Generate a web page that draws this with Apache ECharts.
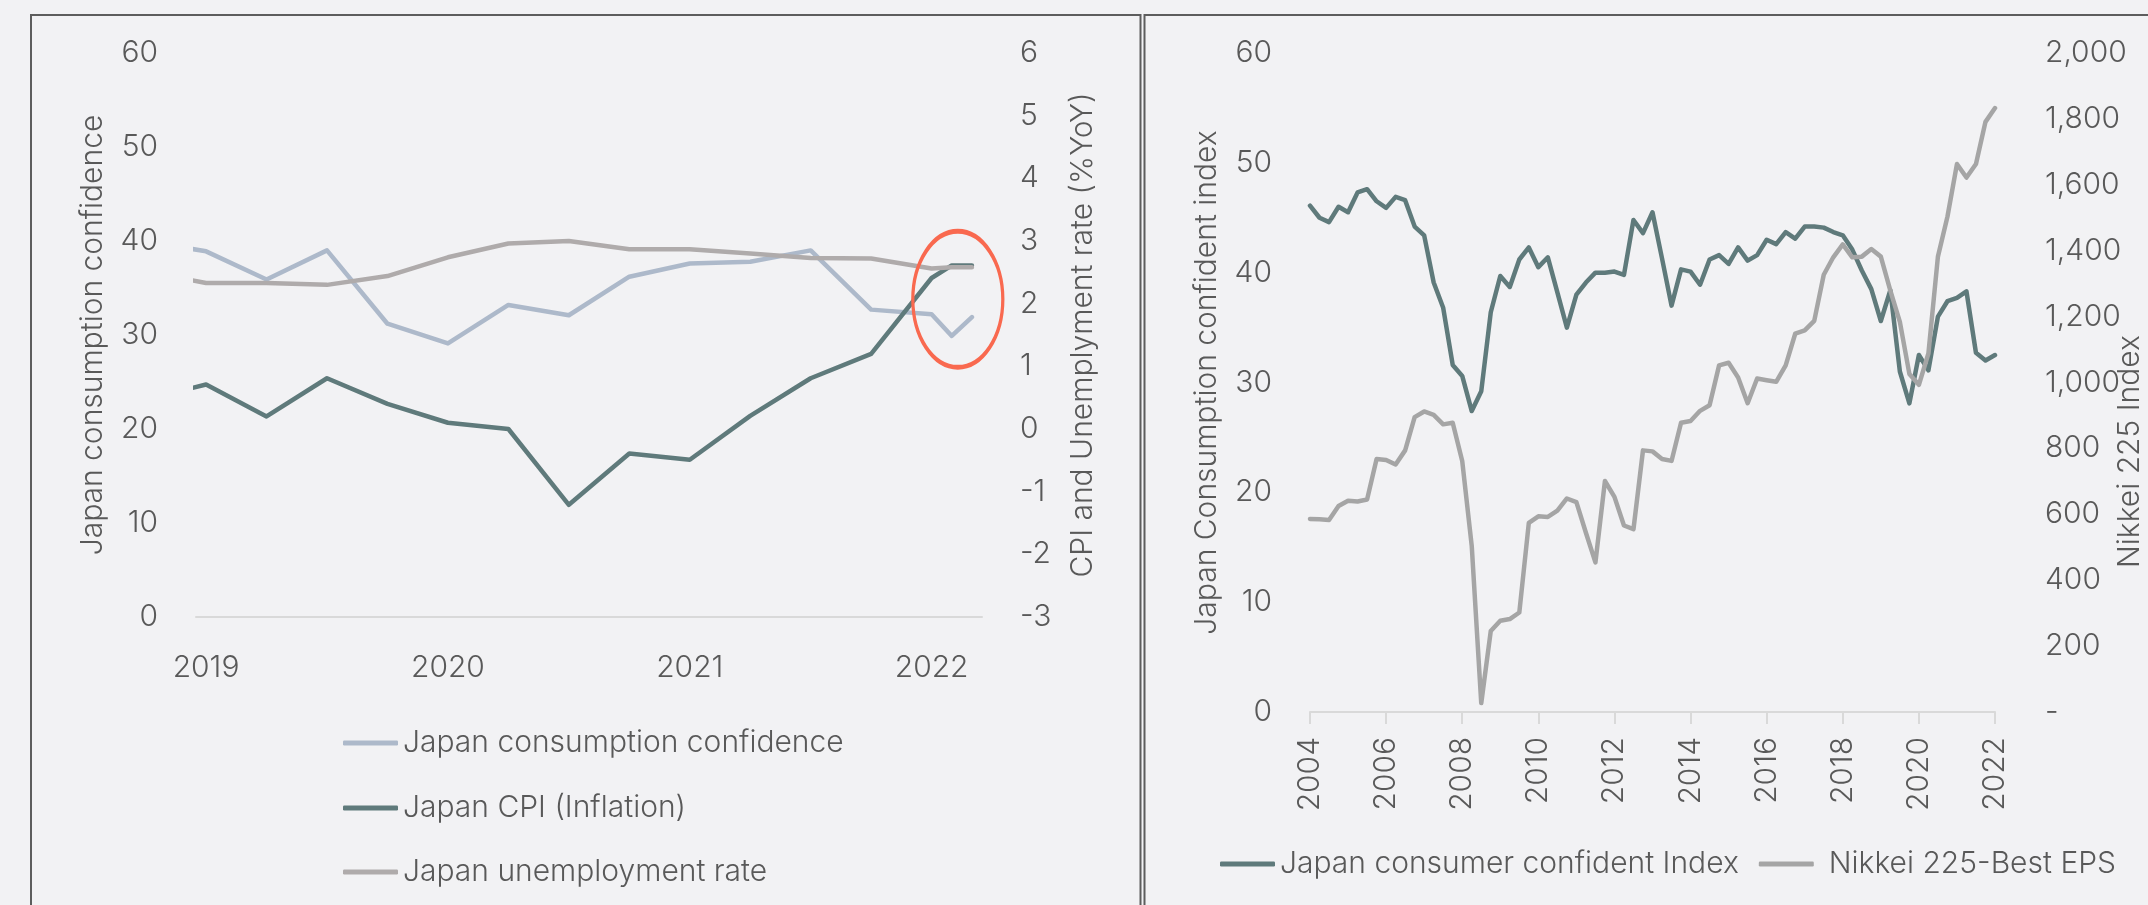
<!DOCTYPE html>
<html>
<head>
<meta charset="utf-8">
<title>Japan consumer confidence, inflation and earnings</title>
<script src="https://cdn.jsdelivr.net/npm/echarts@6/dist/echarts.min.js"></script>
<style>
  html, body { margin: 0; padding: 0; background: #f2f2f4; }
  #chart { width: 2148px; height: 905px; }
</style>
</head>
<body>
<div id="chart"></div>
<script>
// ---- Left panel: quarterly readings, with the two latest monthly prints ----
const leftDates = ['2018-10', '2019-01', '2019-04', '2019-07', '2019-10', '2020-01', '2020-04', '2020-07',
  '2020-10', '2021-01', '2021-04', '2021-07', '2021-10', '2022-01', '2022-02', '2022-03'];
const consumptionConfidence = [40.0, 38.9, 35.9, 39.0, 31.2, 29.1, 33.2, 32.1, 36.2, 37.6, 37.8, 39.0, 32.7, 32.2, 29.9, 31.9];
const cpiInflation = [0.47, 0.71, 0.20, 0.81, 0.40, 0.10, 0.00, -1.21, -0.39, -0.49, 0.21, 0.81, 1.20, 2.41, 2.61, 2.61];
const unemploymentRate = [2.51, 2.33, 2.33, 2.30, 2.44, 2.74, 2.96, 3.00, 2.87, 2.87, 2.80, 2.73, 2.72, 2.56, 2.58, 2.58];
const leftYearTicks = ['2019', '2020', '2021', '2022'];

// ---- Right panel: quarterly readings 2004-2022 ----
const rightQuarters = [
  '2004Q1', '2004Q2', '2004Q3', '2004Q4', '2005Q1', '2005Q2', '2005Q3', '2005Q4',
  '2006Q1', '2006Q2', '2006Q3', '2006Q4', '2007Q1', '2007Q2', '2007Q3', '2007Q4',
  '2008Q1', '2008Q2', '2008Q3', '2008Q4', '2009Q1', '2009Q2', '2009Q3', '2009Q4',
  '2010Q1', '2010Q2', '2010Q3', '2010Q4', '2011Q1', '2011Q2', '2011Q3', '2011Q4',
  '2012Q1', '2012Q2', '2012Q3', '2012Q4', '2013Q1', '2013Q2', '2013Q3', '2013Q4',
  '2014Q1', '2014Q2', '2014Q3', '2014Q4', '2015Q1', '2015Q2', '2015Q3', '2015Q4',
  '2016Q1', '2016Q2', '2016Q3', '2016Q4', '2017Q1', '2017Q2', '2017Q3', '2017Q4',
  '2018Q1', '2018Q2', '2018Q3', '2018Q4', '2019Q1', '2019Q2', '2019Q3', '2019Q4',
  '2020Q1', '2020Q2', '2020Q3', '2020Q4', '2021Q1', '2021Q2', '2021Q3', '2021Q4',
  '2022Q1'];
const consumerConfidentIndex = [
  46.1, 45.0, 44.6, 46.0, 45.5, 47.3, 47.6, 46.5,
  45.9, 46.9, 46.6, 44.2, 43.4, 39.1, 36.8, 31.6,
  30.6, 27.4, 29.2, 36.4, 39.7, 38.7, 41.2, 42.3,
  40.5, 41.4, 38.2, 35.0, 38.0, 39.1, 40.0, 40.0,
  40.1, 39.8, 44.8, 43.6, 45.5, 41.3, 37.0, 40.3,
  40.1, 38.9, 41.2, 41.6, 40.8, 42.3, 41.1, 41.6,
  43.0, 42.6, 43.7, 43.1, 44.2, 44.2, 44.1, 43.7,
  43.4, 42.1, 40.2, 38.5, 35.6, 38.4, 31.0, 28.1,
  32.5, 31.1, 36.0, 37.4, 37.7, 38.3, 32.7, 32.0,
  32.5];
const nikkeiBestEps = [
  586, 585, 583, 625, 641, 639, 645, 768,
  765, 751, 794, 895, 912, 902, 873, 878,
  762, 504, 27, 246, 277, 282, 302, 574,
  594, 592, 611, 648, 637, 544, 454, 701,
  653, 566, 555, 794, 791, 768, 762, 878,
  883, 914, 931, 1052, 1060, 1015, 937, 1012,
  1007, 1002, 1052, 1148, 1158, 1187, 1327, 1380,
  1419, 1380, 1382, 1405, 1382, 1279, 1184, 1026,
  993, 1088, 1382, 1503, 1663, 1622, 1663, 1791,
  1833];

const FONT = 'Inter, "Liberation Sans", Arial, sans-serif';
const TEXT = '#595959';
const FS = 30;
const FW = 300;

// months counted from January 2019
function monthIndex(d) {
  const parts = d.split('-').map(Number);
  return (parts[0] - 2019) * 12 + (parts[1] - 1);
}
function pairs(values) {
  return leftDates.map((d, i) => [monthIndex(d), values[i]]);
}

const leftTickPos = leftYearTicks.map(y => monthIndex(y + '-01'));
const leftMin = monthIndex(leftDates[1]) - 0.5;
const leftMax = monthIndex(leftDates[leftDates.length - 1]) + 0.5;

const lineBase = {
  type: 'line', symbol: 'none', smooth: false, clip: true,
  lineStyle: { width: 4.5, cap: 'round', join: 'round' }
};
const axisText = { color: TEXT, fontSize: FS, fontFamily: FONT, fontWeight: FW };
const legendBase = {
  orient: 'horizontal', icon: 'roundRect', itemWidth: 55, itemHeight: 5,
  selectedMode: false, textStyle: { color: TEXT, fontSize: FS, fontFamily: FONT, fontWeight: FW }
};
const plainY = {
  type: 'value', axisLine: { show: false }, axisTick: { show: false }, splitLine: { show: false },
  nameLocation: 'middle', nameMoveOverlap: false
};

// ellipse outline for the annotation ring
const ringPath = 'path://M0,-1 C0.5523,-1 1,-0.5523 1,0 C1,0.5523 0.5523,1 0,1 C-0.5523,1 -1,0.5523 -1,0 C-1,-0.5523 -0.5523,-1 0,-1 Z';

const chart = echarts.init(document.getElementById('chart'), null, { renderer: 'canvas' });

chart.setOption({
  animation: false,
  backgroundColor: '#f2f2f4',
  textStyle: { fontFamily: FONT },
  grid: [
    { left: 196, top: 53, width: 786, height: 564, outerBoundsMode: 'none' },
    { left: 1310, top: 53, width: 685, height: 659, outerBoundsMode: 'none' }
  ],
  xAxis: [
    {
      gridIndex: 0, type: 'value', min: leftMin, max: leftMax,
      axisLine: { show: true, onZero: false, lineStyle: { color: '#d9d9d9', width: 2 } },
      axisTick: { show: false },
      splitLine: { show: false },
      axisLabel: Object.assign({}, axisText, {
        customValues: leftTickPos,
        margin: 36,
        formatter: v => leftYearTicks[leftTickPos.indexOf(v)]
      })
    },
    {
      gridIndex: 1, type: 'category', data: rightQuarters, boundaryGap: false,
      axisLine: { show: true, onZero: false, lineStyle: { color: '#d9d9d9', width: 2 } },
      axisTick: { show: true, interval: 7, length: 12, lineStyle: { color: '#d9d9d9', width: 2 } },
      splitLine: { show: false },
      axisLabel: Object.assign({}, axisText, {
        interval: 7, rotate: 90, margin: 25,
        formatter: v => v.slice(0, 4)
      })
    }
  ],
  yAxis: [
    Object.assign({}, plainY, {
      gridIndex: 0, position: 'left', min: 0, max: 60, interval: 10,
      axisLabel: Object.assign({}, axisText, { margin: 38 }),
      name: 'Japan consumption confidence', nameGap: 88,
      nameTextStyle: axisText
    }),
    Object.assign({}, plainY, {
      gridIndex: 0, position: 'right', min: -3, max: 6, interval: 1,
      axisLabel: Object.assign({}, axisText, { margin: 38 }),
      name: 'CPI and Unemplyment rate (%YoY)', nameGap: 86,
      nameTextStyle: axisText
    }),
    Object.assign({}, plainY, {
      gridIndex: 1, position: 'left', min: 0, max: 60, interval: 10,
      axisLabel: Object.assign({}, axisText, { margin: 38 }),
      name: 'Japan Consumption confident index', nameGap: 88,
      nameTextStyle: axisText
    }),
    Object.assign({}, plainY, {
      gridIndex: 1, position: 'right', min: 0, max: 2000, interval: 200,
      axisLabel: Object.assign({}, axisText, {
        margin: 50,
        formatter: v => (v === 0 ? '-' : v.toLocaleString('en-US'))
      }),
      name: 'Nikkei 225 Index', nameGap: 120,
      nameTextStyle: Object.assign({}, axisText, { padding: [0, 138, 0, 0] })
    })
  ],
  legend: [
    Object.assign({}, legendBase, { data: ['Japan consumption confidence'], left: 338, top: 723 }),
    Object.assign({}, legendBase, { data: ['Japan CPI (Inflation)'], left: 338, top: 788 }),
    Object.assign({}, legendBase, { data: ['Japan unemployment rate'], left: 338, top: 852 }),
    Object.assign({}, legendBase, {
      data: [
        'Japan consumer confident Index',
        { name: 'Nikkei 225-Best EPS', textStyle: { padding: [0, 0, 0, 10] } }
      ],
      left: 1215, top: 844, itemGap: 20
    })
  ],
  series: [
    Object.assign({}, lineBase, {
      name: 'Japan consumption confidence', xAxisIndex: 0, yAxisIndex: 0,
      color: '#adb9ca', data: pairs(consumptionConfidence)
    }),
    Object.assign({}, lineBase, {
      name: 'Japan CPI (Inflation)', xAxisIndex: 0, yAxisIndex: 1,
      color: '#5f7a7b', data: pairs(cpiInflation),
      markPoint: {
        silent: true,
        symbol: ringPath,
        symbolSize: [90, 136],
        label: { show: false },
        itemStyle: { color: 'rgba(0,0,0,0)', borderColor: '#f9694f', borderWidth: 4 },
        data: [{ coord: [37.3, 2.07] }]
      }
    }),
    Object.assign({}, lineBase, {
      name: 'Japan unemployment rate', xAxisIndex: 0, yAxisIndex: 1,
      color: '#afabab', data: pairs(unemploymentRate)
    }),
    Object.assign({}, lineBase, {
      name: 'Japan consumer confident Index', xAxisIndex: 1, yAxisIndex: 2,
      color: '#5f7a7b', data: consumerConfidentIndex
    }),
    Object.assign({}, lineBase, {
      name: 'Nikkei 225-Best EPS', xAxisIndex: 1, yAxisIndex: 3,
      color: '#a5a5a5', data: nikkeiBestEps
    })
  ],
  graphic: [
    {
      type: 'rect', silent: true, z: -1,
      shape: { x: 31, y: 15, width: 1109.5, height: 1000 },
      style: { fill: 'none', stroke: '#5d5d5d', lineWidth: 2 }
    },
    {
      type: 'rect', silent: true, z: -1,
      shape: { x: 1144.5, y: 15, width: 1100, height: 1000 },
      style: { fill: 'none', stroke: '#5d5d5d', lineWidth: 2 }
    }
  ]
});
</script>
</body>
</html>
